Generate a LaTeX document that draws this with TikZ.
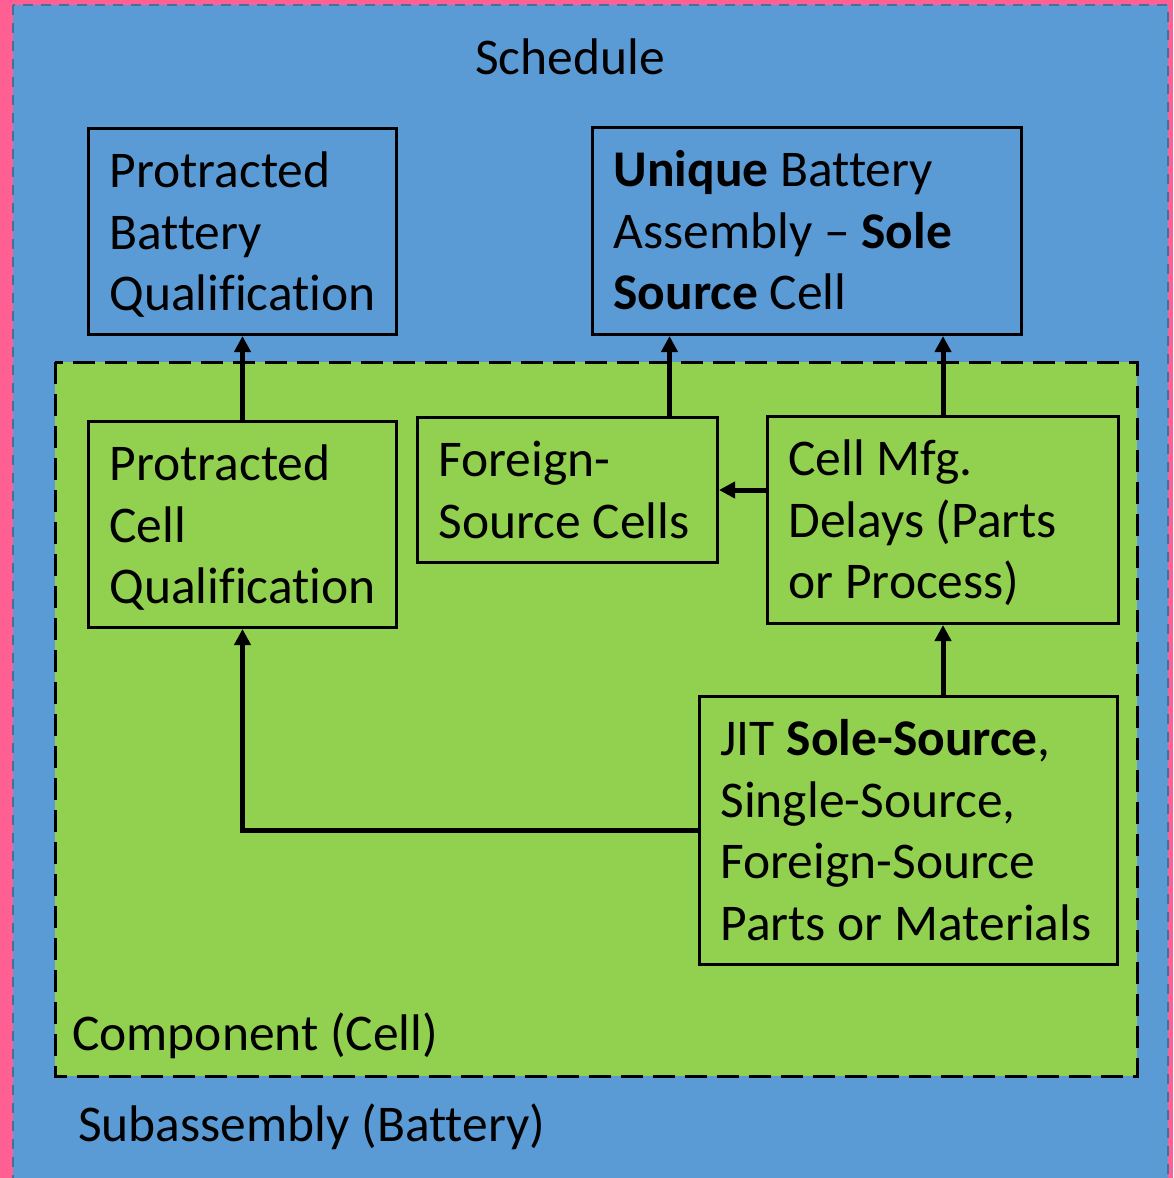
\documentclass[tikz,border=0pt]{standalone}
\usepackage{fontspec}
\setmainfont{Carlito}[Ligatures={NoCommon}]
\usetikzlibrary{arrows.meta,calc}
\definecolor{schedblue}{HTML}{5B9BD5}
\definecolor{schededge}{HTML}{41719C}
\definecolor{cellgreen}{HTML}{92D050}
\definecolor{outerpink}{HTML}{FF5F93}

\begin{document}
\begin{tikzpicture}[x=1pt, y=-1pt,
      every node/.style={font=\fontsize{51.5pt}{61.5pt}\selectfont},
      box/.style={draw, line width=3pt, rectangle, align=flush left, anchor=north west,
        inner xsep=21pt, inner ysep=0pt, text height=59pt},
      arr/.style={line width=5pt, -{Triangle[length=16pt, width=16pt]}}]
    \useasboundingbox (0,0) rectangle (1173,1178);
    % nested regions
    \fill[outerpink] (0,0) rectangle (1173,1178);
    \draw[fill=schedblue, draw=schededge, line width=2pt, dash pattern=on 10pt off 8pt]
      (13,5) rectangle (1168,1200);
    \draw[fill=cellgreen, line width=3pt, dash pattern=on 22pt off 10pt]
      (55,362) rectangle (1137,1076);
    \node[anchor=base] (sched) at (570,74) {Schedule};
    \node[anchor=base west, inner sep=0pt] (comp) at (72,1050) {Component (Cell)};
    \node[anchor=base west, inner sep=0pt] (subasm) at (78,1141) {Subassembly (Battery)};
    % boxes
    \node[box, text width=266pt, text depth=147pt] (pbq) at (87,127)
      {Protracted\\Battery\\Qualification};
    \node[box, text width=387pt, text depth=148pt] (uba) at (591,126)
      {\textbf{Unique} Battery\\Assembly -- \textbf{Sole}\\\textbf{Source} Cell};
    \node[box, text width=266pt, text depth=147pt] (pcq) at (87,420)
      {Protracted\\Cell\\Qualification};
    \node[box, text width=258pt, text depth=86pt] (fsc) at (416,416)
      {Foreign-\\Source Cells};
    \node[box, text width=309pt, text depth=148pt] (cmd) at (766,415)
      {Cell Mfg.\\Delays (Parts\\or Process)};
    \node[box, text width=376pt, text depth=209pt] (jit) at (698,695)
      {JIT \textbf{Sole-Source},\\Single-Source,\\Foreign-Source\\Parts or Materials};
    % arrows
    \draw[arr] (pcq.north) -- (pbq.south);
    \draw[arr] ([xshift=102pt]fsc.north) -- ([xshift=102pt]fsc.north |- uba.south);
    \draw[arr] (cmd.north) -- (cmd.north |- uba.south);
    \draw[arr] (cmd.west |- fsc.east) -- (fsc.east);
    \draw[arr] (jit.north -| cmd.north) -- (cmd.south);
    \draw[arr] (jit.west) -- (jit.west -| pcq.south) -- (pcq.south);
  \end{tikzpicture}
\end{document}
